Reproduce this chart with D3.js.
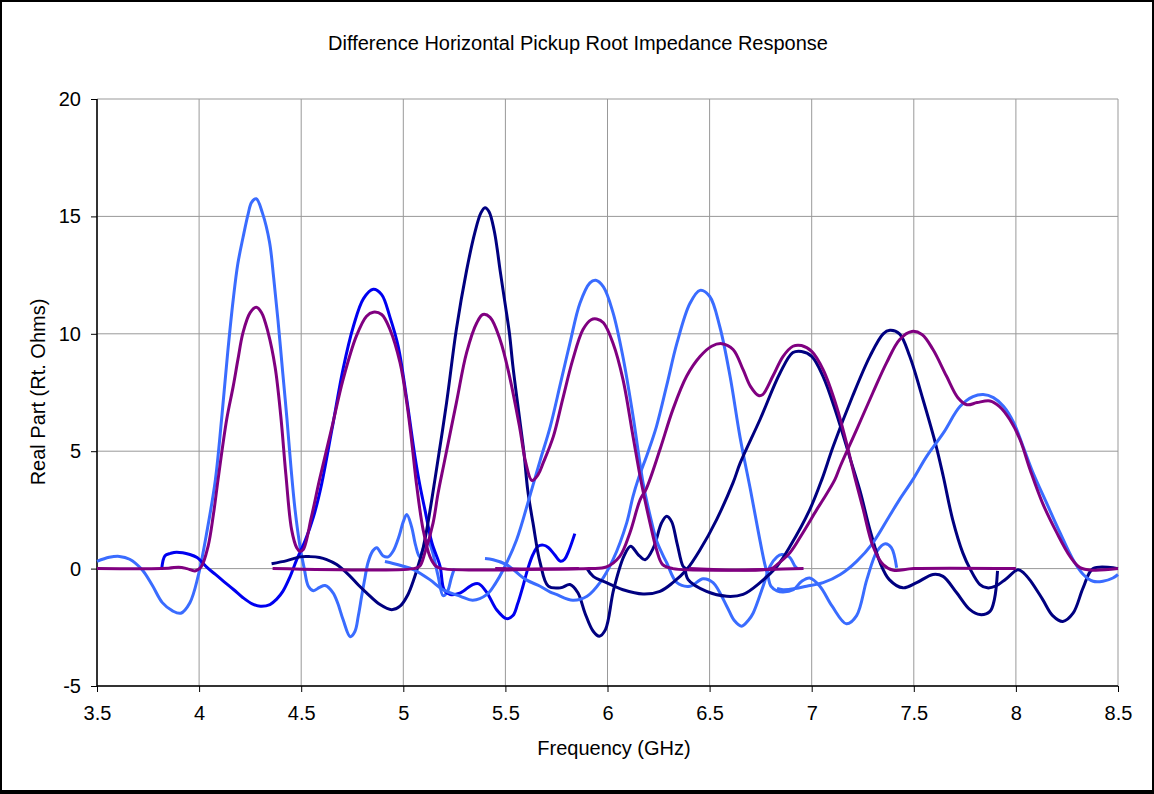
<!DOCTYPE html>
<html>
<head>
<meta charset="utf-8">
<script src="https://cdn.jsdelivr.net/npm/d3@7"></script>
<style>
body { margin: 0; background: #000; }
text { font-family: "Liberation Sans", Arial, sans-serif; fill: #000; }
</style>
</head>
<body>
<script>
let width = 1154
let height = 794
let margin = {left: 97, right: 36, top: 99, bottom: 108}
let title = 'Difference Horizontal Pickup Root Impedance Response'
let x_title = 'Frequency (GHz)'
let y_title = 'Real Part (Rt. Ohms)'
let x_ticks = [3.5, 4, 4.5, 5, 5.5, 6, 6.5, 7, 7.5, 8, 8.5]
let y_ticks = [-5, 0, 5, 10, 15, 20]

let light = '#3a6cff'
let blue = '#0000f0'
let navy = '#000080'
let purple = '#800080'

// light blue, first channel
let l1 = [[3.50,0.31],[3.56,0.48],[3.61,0.52],[3.66,0.40],[3.72,-0.04],[3.77,-0.70],[3.82,-1.45],[3.87,-1.80],[3.91,-1.90],[3.955,-1.45],
  [3.995,-0.33],[4.04,1.66],[4.08,3.8],[4.11,6.35],[4.14,9.2],[4.167,11.45],[4.19,13.0],[4.215,14.1],[4.24,15.1],[4.257,15.6],[4.28,15.75],
  [4.31,15.15],[4.345,13.9],[4.365,12.4],[4.386,10.6],[4.41,8.3],[4.43,6.4],[4.45,4.3],[4.47,2.5],[4.494,0.95],[4.515,0],[4.535,-0.75],
  [4.56,-0.94],[4.59,-0.8],[4.617,-0.72],[4.656,-1.03],[4.68,-1.5],[4.705,-2.17],[4.74,-2.9],[4.763,-2.68],[4.78,-2.0],[4.796,-1.18],
  [4.81,-0.5],[4.827,0.25],[4.85,0.75],[4.87,0.89],[4.9,0.55],[4.926,0.5],[4.95,0.74],[4.98,1.4],[5.0,2.0],[5.017,2.3],[5.04,1.8],
  [5.06,1.0],[5.08,0.5],[5.1,0.9],[5.12,1.2],[5.14,0.8],[5.17,-0.3],[5.195,-1.15],[5.215,-1.0],[5.235,-0.4],[5.25,0]]
// blue, second channel
let b1 = [[3.817,0],[3.833,0.55],[3.86,0.65],[3.89,0.7],[3.955,0.6],[3.99,0.47],[4.04,0.04],[4.08,-0.25],[4.12,-0.54],[4.17,-0.9],
  [4.215,-1.24],[4.26,-1.5],[4.3,-1.6],[4.347,-1.53],[4.38,-1.3],[4.41,-0.97],[4.445,-0.35],[4.478,0.38],[4.52,1.2],[4.56,2.2],[4.6,3.6],
  [4.65,5.9],[4.705,8.5],[4.755,10.3],[4.805,11.5],[4.853,11.9],[4.894,11.67],[4.935,10.7],[4.975,9.47],[5.017,7.2],[5.057,4.78],
  [5.08,3.6],[5.106,2.5],[5.14,1.1],[5.18,0.1],[5.2,-0.9],[5.23,-1.1],[5.28,-1.03],[5.34,-0.68],[5.37,-0.65],[5.41,-1.03],[5.457,-1.75],
  [5.506,-2.13],[5.537,-2.0],[5.56,-1.5],[5.586,-0.75],[5.61,0],[5.635,0.6],[5.66,0.95],[5.685,1.0],[5.71,0.9],[5.74,0.6],[5.77,0.31],
  [5.79,0.4],[5.81,0.75],[5.84,1.49]]
// navy, third channel
let n1 = [[4.355,0.21],[4.43,0.34],[4.494,0.5],[4.543,0.51],[4.59,0.47],[4.625,0.38],[4.674,0.17],[4.74,-0.33],[4.78,-0.7],[4.82,-1.03],
  [4.886,-1.53],[4.943,-1.75],[4.984,-1.6],[5.023,-1.1],[5.05,-0.5],[5.072,0.1],[5.095,0.8],[5.115,1.66],[5.155,3.8],[5.212,7.07],
  [5.26,10.2],[5.31,12.7],[5.35,14.3],[5.38,15.15],[5.40,15.37],[5.42,15.2],[5.445,14.4],[5.46,13.6],[5.474,12.7],[5.50,11.2],
  [5.52,10.0],[5.537,8.6],[5.57,6.35],[5.59,5.0],[5.61,3.3],[5.635,1.95],[5.67,0.25],[5.71,-0.75],[5.77,-0.82],[5.816,-0.68],
  [5.855,-1.03],[5.89,-1.9],[5.93,-2.67],[5.96,-2.88],[5.99,-2.6],[6.03,-0.9],[6.08,0.52],[6.113,0.95],[6.15,0.6],[6.184,0.38],
  [6.225,0.89],[6.265,1.95],[6.29,2.23],[6.314,2.0],[6.34,1.1],[6.37,0.1],[6.385,0]]
// light blue, fourth channel
let l3 = [[4.91,0.3],[4.95,0.22],[5.0,0.1],[5.05,-0.04],[5.13,-0.47],[5.195,-0.9],[5.28,-1.18],[5.34,-1.35],[5.41,-1.1],[5.45,-0.65],
  [5.49,-0.04],[5.555,1.23],[5.62,3.1],[5.67,4.6],[5.72,6.06],[5.77,7.9],[5.816,9.6],[5.865,11.3],[5.914,12.17],[5.942,12.28],
  [5.98,12.0],[6.027,10.9],[6.076,9.0],[6.125,6.5],[6.174,3.66],[6.21,2.2],[6.24,1.2],[6.27,0.6],[6.29,0.25],[6.34,-0.6],[6.404,-0.75],
  [6.468,-0.43],[6.517,-0.6],[6.584,-1.6],[6.62,-2.2],[6.657,-2.45],[6.69,-2.2],[6.713,-1.9],[6.762,-0.75],[6.796,0.1],[6.83,0.5],
  [6.853,0.6],[6.89,0.5],[6.918,0.1],[6.93,0]]
// light blue, fifth channel
let l4 = [[5.40,0.43],[5.44,0.38],[5.506,0.17],[5.6,-0.47],[5.67,-0.75],[5.72,-1.0],[5.75,-1.1],[5.83,-1.35],[5.9,-1.18],[5.963,-0.6],
  [6.027,0.38],[6.094,1.95],[6.125,3.08],[6.15,3.8],[6.2,5.0],[6.24,6.06],[6.29,7.8],[6.34,9.6],[6.404,11.3],[6.453,11.85],[6.5,11.6],
  [6.55,10.3],[6.6,8.2],[6.649,5.6],[6.7,3.36],[6.74,1.5],[6.77,0.2],[6.786,-0.33],[6.80,-0.75],[6.83,-0.95],[6.86,-1.0],[6.91,-0.9],
  [6.95,-0.55],[6.99,-0.4],[7.04,-0.75],[7.1,-1.6],[7.17,-2.35],[7.22,-2.0],[7.27,-0.47],[7.32,0.74],[7.36,1.06],[7.39,0.89],[7.416,0.04]]
// navy, sixth channel
let n2 = [[5.9,0],[5.93,-0.33],[5.995,-0.6],[6.076,-0.9],[6.174,-1.08],[6.257,-0.97],[6.32,-0.6],[6.388,-0.04],[6.454,0.81],[6.535,2.1],
  [6.615,3.66],[6.65,4.5],[6.747,6.35],[6.845,8.33],[6.908,9.2],[6.95,9.25],[7.0,9.04],[7.055,8.2],[7.12,6.63],[7.19,4.64],[7.237,3.3],
  [7.285,1.66],[7.335,0.25],[7.38,-0.47],[7.447,-0.82],[7.514,-0.6],[7.594,-0.25],[7.643,-0.33],[7.71,-1.03],[7.775,-1.75],
  [7.824,-1.96],[7.873,-1.82],[7.895,-1.3],[7.91,-0.1]]
// navy, seventh channel
let n3 = [[6.38,0.05],[6.395,-0.47],[6.485,-0.97],[6.584,-1.18],[6.664,-1.1],[6.747,-0.6],[6.83,0.1],[6.894,0.95],[6.99,2.5],
  [7.05,3.8],[7.105,5.2],[7.2,7.34],[7.285,9.04],[7.35,10.0],[7.383,10.15],[7.43,10.0],[7.48,9.04],[7.545,7.2],[7.61,5.2],[7.645,3.9],
  [7.69,2.1],[7.74,0.67],[7.775,0],[7.824,-0.68],[7.86,-0.82],[7.9,-0.75],[7.95,-0.45],[8.01,-0.05],[8.04,-0.2],[8.07,-0.5],
  [8.13,-1.3],[8.18,-2.0],[8.23,-2.25],[8.28,-1.9],[8.33,-0.8],[8.378,0],[8.5,0]]
// light blue, eighth channel
let l5 = [[6.83,-0.85],[6.86,-0.9],[6.92,-0.85],[6.975,-0.75],[7.056,-0.6],[7.14,-0.25],[7.22,0.31],[7.30,1.1],[7.38,2.23],[7.43,2.94],
  [7.496,3.8],[7.563,4.78],[7.645,5.78],[7.726,6.9],[7.79,7.32],[7.84,7.41],[7.89,7.28],[7.94,6.9],[7.99,6.2],[8.035,5.2],[8.084,4.08],
  [8.15,2.8],[8.216,1.53],[8.28,0.38],[8.33,-0.25],[8.378,-0.54],[8.426,-0.54],[8.475,-0.4],[8.5,-0.25]]

// purple pairs
let pa = [[3.5,0],[3.85,0.02],[3.9,0.06],[3.94,0],[3.98,-0.1],[4.01,0.07],[4.044,0.95],[4.07,2.3],[4.093,3.8],[4.135,6.35],[4.167,7.76],
  [4.19,8.9],[4.215,10.05],[4.25,10.9],[4.28,11.13],[4.306,10.9],[4.338,10.05],[4.372,8.6],[4.40,6.5],[4.425,4.0],[4.453,1.66],
  [4.478,0.89],[4.494,0.74],[4.51,0.81],[4.55,2.2],[4.59,3.8],[4.65,6.0],[4.705,8.05],[4.77,9.9],[4.82,10.75],[4.853,10.92],
  [4.894,10.82],[4.935,10.18],[4.984,8.77],[5.017,7.07],[5.04,5.5],[5.066,3.5],[5.097,1.66],[5.13,0.52],[5.16,0.1],[5.19,0],[5.86,0]]
let pb = [[4.36,0],[5.05,0],[5.08,0.1],[5.106,0.68],[5.146,1.95],[5.17,3.2],[5.2,4.5],[5.26,7.07],[5.31,9.2],[5.36,10.47],[5.39,10.82],
  [5.425,10.7],[5.474,9.75],[5.52,8.2],[5.57,6.0],[5.6,4.5],[5.63,3.75],[5.66,4.0],[5.685,4.5],[5.735,5.63],[5.78,7.2],[5.83,8.9],
  [5.88,10.18],[5.92,10.6],[5.947,10.63],[5.98,10.47],[6.027,9.6],[6.076,8.05],[6.125,5.63],[6.167,3.6],[6.208,1.95],[6.24,0.81],
  [6.27,0.17],[6.32,0],[6.96,0]]
let pc = [[5.45,0],[5.91,0],[5.995,0.07],[6.06,0.52],[6.11,1.53],[6.16,2.94],[6.19,3.4],[6.257,5.07],[6.32,6.77],[6.388,8.2],
  [6.454,9.04],[6.51,9.47],[6.56,9.58],[6.615,9.33],[6.664,8.47],[6.7,7.76],[6.74,7.37],[6.76,7.41],[6.81,8.2],[6.86,9.04],[6.908,9.47],
  [6.95,9.5],[7.0,9.25],[7.056,8.47],[7.122,6.9],[7.17,5.36],[7.21,3.93],[7.25,2.6],[7.3,0.95],[7.35,0.17],[7.4,-0.07],[7.5,0],[8.0,0]]
let pd = [[6.4,0],[6.8,0],[6.83,0.17],[6.894,0.68],[6.957,1.53],[7.024,2.5],[7.056,2.94],[7.114,3.8],[7.14,4.36],[7.22,5.92],[7.3,7.5],
  [7.367,8.77],[7.43,9.75],[7.49,10.1],[7.54,9.97],[7.594,9.33],[7.66,8.2],[7.716,7.28],[7.76,6.98],[7.81,7.07],[7.873,7.14],[7.92,6.9],
  [7.97,6.35],[8.02,5.5],[8.07,4.2],[8.13,2.8],[8.2,1.53],[8.265,0.52],[8.314,0.04],[8.378,-0.07],[8.5,0]]

let series = [
  {data: l1, color: light}, {data: b1, color: blue}, {data: n1, color: navy}, {data: l3, color: light},
  {data: l4, color: light}, {data: n2, color: navy}, {data: n3, color: navy}, {data: l5, color: light},
  {data: pa, color: purple}, {data: pb, color: purple}, {data: pc, color: purple}, {data: pd, color: purple}
]

let svg = d3.select('body')
    .append('svg')
    .attr('width', width)
    .attr('height', height)

svg.append('rect')
    .attr('x', 2)
    .attr('y', 2)
    .attr('width', width - 4)
    .attr('height', height - 6)
    .attr('fill', '#fff')

let x = d3.scaleLinear().domain([3.5, 8.5]).range([margin.left, width - margin.right])
let y = d3.scaleLinear().domain([-5, 20]).range([height - margin.bottom, margin.top])

// grid
svg.append('g')
    .selectAll('line')
    .data(x_ticks)
    .join('line')
    .attr('x1', d => x(d))
    .attr('x2', d => x(d))
    .attr('y1', y(20))
    .attr('y2', y(-5))
    .attr('stroke', '#999')
    .attr('stroke-width', 1)
svg.append('g')
    .selectAll('line')
    .data(y_ticks)
    .join('line')
    .attr('x1', x(3.5))
    .attr('x2', x(8.5))
    .attr('y1', d => y(d))
    .attr('y2', d => y(d))
    .attr('stroke', '#999')
    .attr('stroke-width', 1)

// axes
let xAxis = svg.append('g')
    .attr('transform', `translate(0,${y(-5)})`)
    .call(d3.axisBottom(x).tickValues(x_ticks).tickSize(6).tickPadding(14).tickFormat(d => String(d)))
let yAxis = svg.append('g')
    .attr('transform', `translate(${x(3.5)},0)`)
    .call(d3.axisLeft(y).tickValues(y_ticks).tickSize(6).tickPadding(10).tickFormat(d => String(d)))
for (let a of [xAxis, yAxis]) {
    a.select('.domain').attr('stroke', '#000').attr('stroke-width', 1.5)
    a.selectAll('.tick line').attr('stroke', '#000')
    a.selectAll('.tick text')
        .attr('font-size', 20)
        .attr('font-family', '"Liberation Sans", Arial, sans-serif')
        .attr('fill', '#000')
}
xAxis.select('.domain').attr('d', `M${x(3.5)},0H${x(8.5)}`)
yAxis.select('.domain').attr('d', `M0,${y(-5)}V${y(20)}`)

// lines
let line = d3.line()
    .x(d => x(d[0]))
    .y(d => y(d[1]))
    .curve(d3.curveCatmullRom.alpha(0.5))

svg.append('g')
    .selectAll('path')
    .data(series)
    .join('path')
    .attr('d', d => line(d.data))
    .attr('fill', 'none')
    .attr('stroke', d => d.color)
    .attr('stroke-width', 3)
    .attr('stroke-linejoin', 'round')

// titles
svg.append('text')
    .attr('x', 578)
    .attr('y', 50)
    .attr('text-anchor', 'middle')
    .attr('font-size', 20)
    .text(title)
svg.append('text')
    .attr('x', 614)
    .attr('y', 755)
    .attr('text-anchor', 'middle')
    .attr('font-size', 20)
    .text(x_title)
svg.append('text')
    .attr('transform', 'translate(45,392) rotate(-90)')
    .attr('text-anchor', 'middle')
    .attr('font-size', 20)
    .text(y_title)
</script>
</body>
</html>
